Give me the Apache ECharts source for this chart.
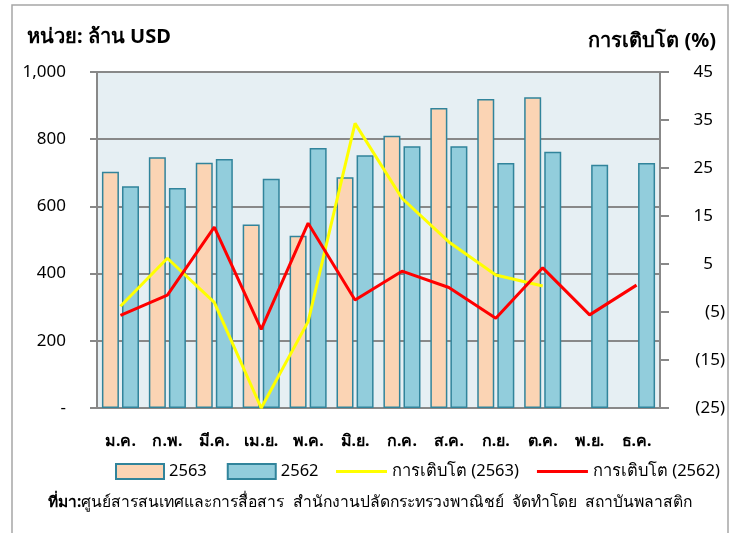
<!DOCTYPE html>
<html>
<head>
<meta charset="utf-8">
<script src="https://cdn.jsdelivr.net/npm/echarts@6/dist/echarts.min.js"></script>
<style>
html,body{margin:0;padding:0;background:#fff;}
#c{width:732px;height:533px;}
</style>
</head>
<body>
<div id="c"></div>
<script>
var categories = ['ม.ค.','ก.พ.','มี.ค.','เม.ย.','พ.ค.','มิ.ย.','ก.ค.','ส.ค.','ก.ย.','ต.ค.','พ.ย.','ธ.ค.'];
var value2563 = [703, 746, 730, 546, 513, 687, 810, 893, 920, 925, null, null];
var value2562 = [660, 655, 741, 682, 774, 752, 779, 779, 729, 763, 724, 729];
var growth2563 = [-3.8, 6.2, -3.0, -25, -7.0, 34.3, 18.7, 9.6, 2.7, 0.4, null, null];
var growth2562 = [-5.7, -1.5, 12.7, -8.6, 13.5, -2.5, 3.5, 0.1, -6.3, 4.2, -5.6, 0.6];
var leftTicks = {min: 0, max: 1000, interval: 200};
var rightTicks = {min: -25, max: 45, interval: 10};

var FONT = "Tahoma, 'Noto Sans', 'DejaVu Sans', sans-serif";
var chart = echarts.init(document.getElementById('c'));
var option = {
  animation: false,
  textStyle: {fontFamily: FONT},
  graphic: [
    {type: 'rect', shape: {x: 12, y: 5, width: 716, height: 540}, style: {fill: 'none', stroke: '#a6a6a6', lineWidth: 1.5}, z: -10},
    {type: 'text', left: 27, top: 27, style: {text: 'หน่วย: ล้าน USD', font: "bold 20px " + FONT, fill: '#000'}},
    {type: 'text', right: 16, top: 31, style: {text: 'การเติบโต (%)', font: "bold 20px " + FONT, fill: '#000'}},
    {type: 'text', left: 48, top: 495, style: {
      text: '{b|ที่มา:}{n|ศูนย์สารสนเทศและการสื่อสาร  สำนักงานปลัดกระทรวงพาณิชย์  จัดทำโดย  สถาบันพลาสติก}',
      rich: {
        b: {font: "bold 15.5px " + FONT, fill: '#000'},
        n: {font: "15.7px " + FONT, fill: '#000'}
      }
    }}
  ],
  grid: {left: 97, right: 72, top: 72, bottom: 125, show: true, backgroundColor: '#e6eff3', borderColor: '#888', borderWidth: 2},
  legend: [
    {data: [{name: '2563', icon: 'rect'}, {name: '2562', icon: 'rect'}], left: 115, top: 463, padding: 0, width: 260,
     itemWidth: 48, itemHeight: 15, itemGap: 20,
     textStyle: {fontSize: 16.5, color: '#000', fontFamily: FONT}},
    {data: [{name: 'การเติบโต (2563)', icon: 'rect'}, {name: 'การเติบโต (2562)', icon: 'rect'}],
     left: 336, top: 463, padding: 0, width: 394, itemWidth: 51, itemHeight: 3, itemGap: 18,
     textStyle: {fontSize: 16.5, color: '#000', fontFamily: FONT}}
  ],
  xAxis: {
    type: 'category', data: categories,
    axisLine: {show: true, lineStyle: {color: '#888', width: 2}},
    axisTick: {show: false},
    axisLabel: {margin: 25, fontSize: 16, fontWeight: 'bold', color: '#000', fontFamily: FONT}
  },
  yAxis: [
    {type: 'value', min: leftTicks.min, max: leftTicks.max, interval: leftTicks.interval, position: 'left',
     axisLine: {show: true, lineStyle: {color: '#888', width: 2}},
     axisTick: {show: true, length: 7, lineStyle: {color: '#888', width: 2}},
     splitLine: {show: true, lineStyle: {color: '#888', width: 2}},
     axisLabel: {margin: 31, fontSize: 17, color: '#000', fontFamily: FONT,
       formatter: function (v) { return v === 0 ? '-' : v.toLocaleString('en-US'); }}
    },
    {type: 'value', min: rightTicks.min, max: rightTicks.max, interval: rightTicks.interval, position: 'right',
     axisLine: {show: true, lineStyle: {color: '#888', width: 2}},
     axisTick: {show: true, length: 9, lineStyle: {color: '#888', width: 2}},
     splitLine: {show: false},
     axisLabel: {margin: 65, align: 'right', fontSize: 17, color: '#000', fontFamily: FONT,
       formatter: function (v) { return v < 0 ? '(' + Math.abs(v) + ')' : '{p|' + v + '}'; },
       rich: {p: {fontSize: 17, color: '#000', fontFamily: FONT, padding: [0, 12, 0, 0]}}
     }
    }
  ],
  series: [
    {name: '2563', type: 'bar', data: value2563, barWidth: 17, barGap: '18%',
     itemStyle: {color: '#fbd4b4', borderColor: '#31849b', borderWidth: 1.5}},
    {name: '2562', type: 'bar', data: value2562, barWidth: 17,
     itemStyle: {color: '#92cddc', borderColor: '#31849b', borderWidth: 1.5}},
    {name: 'การเติบโต (2563)', type: 'line', yAxisIndex: 1, data: growth2563, symbol: 'none',
     lineStyle: {color: '#ffff00', width: 3}, itemStyle: {color: '#ffff00'}, z: 5},
    {name: 'การเติบโต (2562)', type: 'line', yAxisIndex: 1, data: growth2562, symbol: 'none',
     lineStyle: {color: '#ff0000', width: 3}, itemStyle: {color: '#ff0000'}, z: 6}
  ]
};
chart.setOption(option);
</script>
</body>
</html>
